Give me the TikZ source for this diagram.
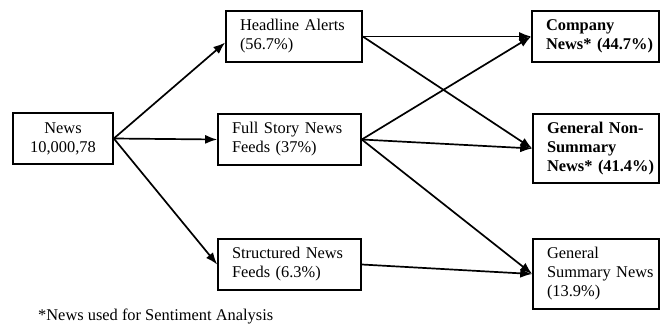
\documentclass[tikz,border=0pt]{standalone}
\usepackage{fontspec}
\setmainfont{Liberation Serif}
\usepackage{tikz}
\usetikzlibrary{arrows.meta}
\tikzset{>={Latex[length=12pt,width=9pt]}}
\tikzset{%
    box/.style={%
        draw, line width=1.6pt, inner xsep=14pt, inner ysep=0pt,
        minimum height=51pt, align=left,
        font=\fontsize{16.4}{19}\selectfont
    },
    flow/.style={->, line width=1.7pt}
}

\begin{document}
\begin{tikzpicture}[x=1pt,y=-1pt]
    \useasboundingbox (0,0) rectangle (661,324);

    % sources
    \node[box,align=center,minimum width=100pt] (news) at (63,138.5) {News\\10,000,78};

    % feed types
    \node[box,minimum width=136pt,text width=108pt] (hl) at (294,36.5) {Headline Alerts\\(56.7\%)};
    \node[box,minimum width=143pt,text width=115pt] (fs) at (289.5,139.5) {Full Story News\\Feeds (37\%)};
    \node[box,minimum width=143pt,text width=115pt] (sn) at (289.5,264.5) {Structured News\\Feeds (6.3\%)};

    % news categories
    \node[box,minimum width=127pt,text width=99pt] (cn) at (595.5,36.5) {\textbf{Company}\\\mbox{\textbf{News* (44.7\%)}}};
    \node[box,minimum width=126pt,text width=98pt,minimum height=69pt] (gns) at (596,148.5) {\mbox{\textbf{General Non-}}\\\textbf{Summary}\\\mbox{\textbf{News* (41.4\%)}}};
    \node[box,minimum width=126pt,text width=98pt,minimum height=70pt] (gs) at (596,274) {General\\\mbox{Summary News}\\(13.9\%)};

    \node[anchor=west,inner sep=0pt,font=\fontsize{16.4}{19}\selectfont] (note) at (38,316) {*News used for Sentiment Analysis};

    \draw[flow] (news.east) -- (hl.185);
    \draw[flow] (news.east) -- (fs.west);
    \draw[flow] (news.east) -- (sn.west);

    \draw[flow] (hl.east) -- (cn.west);
    \draw[flow] (hl.east) -- (gns.west);
    \draw[flow] (fs.east) -- (cn.west);
    \draw[flow] (fs.east) -- (gns.west);
    \draw[flow] (fs.east) -- (gs.west);
    \draw[flow] (sn.east) -- (gs.west);
\end{tikzpicture}
\end{document}
